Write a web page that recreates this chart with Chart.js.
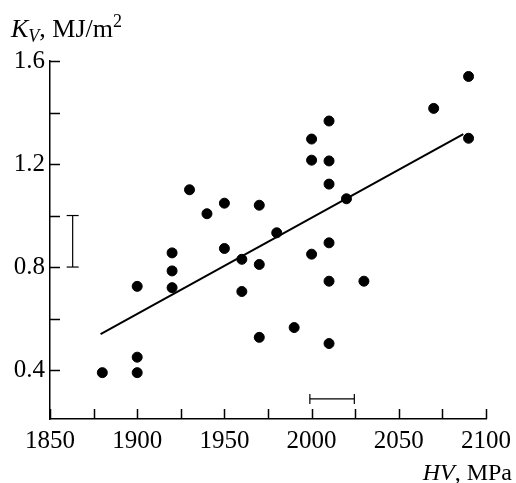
<!DOCTYPE html>
<html>
<head>
<meta charset="utf-8">
<script src="https://cdn.jsdelivr.net/npm/chart.js@4"></script>
<style>
  body { margin: 0; background: #fff; }
  #wrap { position: relative; width: 516px; height: 483px; }
  .lbl { position: absolute; font-family: 'Liberation Serif', serif; font-size: 24px; color: #000; white-space: nowrap; line-height: 1; }
  #ytitle { font-size: 26px; }
  .lbl sub { font-size: 18px; vertical-align: -5px; }
  .lbl sup { font-size: 18px; vertical-align: 10px; }
</style>
</head>
<body>
<div id="wrap">
  <canvas id="chart" width="516" height="483"></canvas>
  <div class="lbl" id="ytitle" style="left:11px; top:12px;"><i>K</i><sub><i>V</i></sub>, MJ/m<sup>2</sup></div>
  <div class="lbl" id="xtitle" style="right:4px; top:460px;"><i>HV</i>, MPa</div>
</div>
<script>
// measured points (HV, MPa -> K_V, MJ/m2)
const hv = [1880, 1900, 1900, 1900, 1920, 1920, 1920, 1930, 1940, 1950, 1950, 1960, 1960, 1970, 1970, 1970,
            1980, 1990, 2000, 2000, 2000, 2010, 2010, 2010, 2010, 2010, 2010, 2020, 2030, 2070, 2090, 2090];
const kv = [0.39, 0.45, 0.39, 0.725, 0.855, 0.785, 0.72, 1.10, 1.007, 1.048, 0.872, 0.83, 0.705, 1.04, 0.81, 0.527,
            0.933, 0.565, 1.297, 1.215, 0.85, 1.367, 1.212, 1.122, 0.894, 0.745, 0.503, 1.065, 0.745, 1.416, 1.54, 1.30];

// fitted line end points
const fitX = [1879, 2087];
const fitY = [0.54, 1.316];

// error bars: vertical (K_V scatter) and horizontal (HV scatter)
const errKvX = 1863;
const errKv = [0.8, 1.0];
const errHv = [1999, 2024.5];
const errHvY = 0.288;

// axis ticks
const xTicks = [1850, 1875, 1900, 1925, 1950, 1975, 2000, 2025, 2050, 2075, 2100];
const xLabeled = [1850, 1900, 1950, 2000, 2050, 2100];
const yTicks = [0.4, 0.6, 0.8, 1.0, 1.2, 1.4, 1.6];
const yLabeled = [0.4, 0.8, 1.2, 1.6];

const points = hv.map((x, i) => ({ x: x, y: kv[i] }));
const fitLine = fitX.map((x, i) => ({ x: x, y: fitY[i] }));

// inward tick marks
const innerTicks = {
    id: 'innerTicks',
    afterDraw(chart) {
        const c = chart.ctx;
        const xs = chart.scales.x, ys = chart.scales.y;
        const area = chart.chartArea;
        c.save();
        c.strokeStyle = '#000';
        c.lineWidth = 1.5;
        c.beginPath();
        xTicks.forEach(v => {
            const px = Math.round(xs.getPixelForValue(v)) + 0.5;
            c.moveTo(px, area.bottom);
            c.lineTo(px, area.bottom - 10);
        });
        yTicks.forEach(v => {
            const py = Math.round(ys.getPixelForValue(v)) + 0.5;
            c.moveTo(area.left, py);
            c.lineTo(area.left + 10, py);
        });
        c.stroke();
        c.restore();
    }
};

new Chart(document.getElementById('chart'), {
    type: 'scatter',
    data: {
        datasets: [
            {
                data: points,
                backgroundColor: '#000',
                borderColor: '#000',
                pointRadius: 5,
                pointHoverRadius: 5
            },
            {
                type: 'line',
                data: fitLine,
                borderColor: '#000',
                borderWidth: 2,
                pointRadius: 0,
                fill: false
            },
            {
                type: 'line',
                data: errKv.map(y => ({ x: errKvX, y: y })),
                borderColor: '#000',
                borderWidth: 1.2,
                pointStyle: 'line',
                pointRadius: 6,
                pointBorderWidth: 1.2,
                pointBorderColor: '#000',
                fill: false
            },
            {
                type: 'line',
                data: errHv.map(x => ({ x: x, y: errHvY })),
                borderColor: '#000',
                borderWidth: 1.2,
                pointStyle: 'line',
                pointRotation: 90,
                pointRadius: 5,
                pointBorderWidth: 1.2,
                pointBorderColor: '#000',
                fill: false
            }
        ]
    },
    options: {
        responsive: false,
        animation: false,
        layout: { padding: { top: 61, right: 30, left: 0, bottom: 0 } },
        plugins: { legend: { display: false }, tooltip: { enabled: false } },
        scales: {
            x: {
                type: 'linear',
                min: 1850,
                max: 2100,
                afterBuildTicks: s => { s.ticks = xTicks.map(v => ({ value: v })); },
                afterFit: s => { s.height = 64; s.paddingLeft = 0; s.paddingRight = 0; },
                grid: { display: false, drawTicks: false },
                border: { display: true, color: '#000', width: 1.5 },
                ticks: {
                    color: '#000',
                    padding: 7,
                    maxRotation: 0,
                    autoSkip: false,
                    font: { family: 'Liberation Serif', size: 25 },
                    callback: v => xLabeled.includes(v) ? String(v) : ''
                }
            },
            y: {
                type: 'linear',
                min: 0.21,
                max: 1.6,
                afterBuildTicks: s => { s.ticks = yTicks.map(v => ({ value: v })); },
                afterFit: s => { s.width = 50; s.paddingTop = 0; s.paddingBottom = 0; },
                grid: { display: false, drawTicks: false },
                border: { display: true, color: '#000', width: 1.5 },
                ticks: {
                    color: '#000',
                    padding: 5,
                    autoSkip: false,
                    font: { family: 'Liberation Serif', size: 25 },
                    callback: v => yLabeled.some(t => Math.abs(t - v) < 1e-6) ? v.toFixed(1) : ''
                }
            }
        }
    },
    plugins: [innerTicks]
});
</script>
</body>
</html>
